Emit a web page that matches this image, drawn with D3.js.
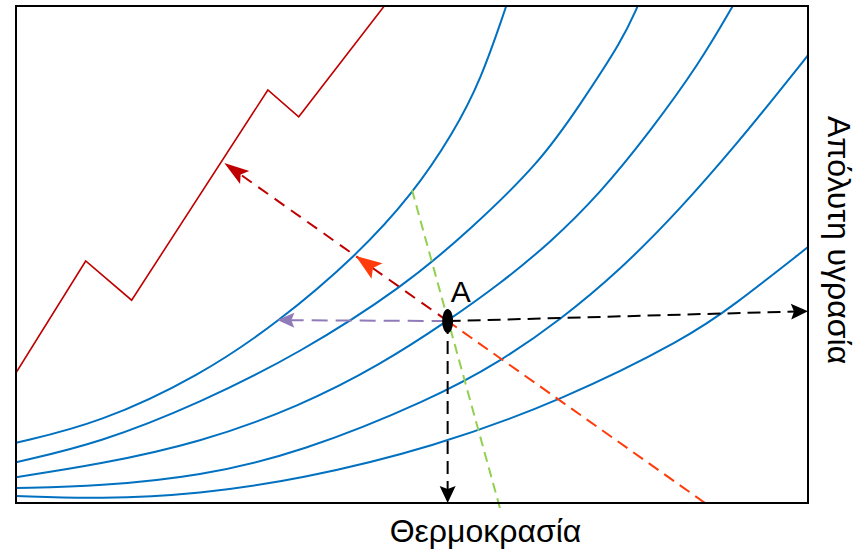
<!DOCTYPE html>
<html><head><meta charset="utf-8">
<script src="https://cdn.jsdelivr.net/npm/d3@7"></script>
<style>body{margin:0;background:#fff}svg{display:block}</style>
</head><body><svg id="c" width="864" height="553"></svg>
<script>
// ---- data (temperature 0-100, absolute humidity 0-100, schematic units) ----
const curve1 = [[0,12.1],[10.6,16.1],[23.2,25.6],[33.0,36.2],[43.1,49.9],[50.1,62.2],[55.2,74.4],[58.7,85.1],[61.9,100]];
const curve2 = [[0,8.2],[10.6,12.1],[23.2,20.1],[35.9,30.2],[48.9,43.5],[57.3,54.9],[66.2,68.6],[71.2,80.1],[76.6,93.2],[78.5,100]];
const curve3 = [[0,5.2],[10.6,7.8],[23.2,12.1],[35.9,19.5],[46.0,27.8],[54.5,36.6],[61.1,44.1],[67.4,52.3],[73.7,62.2],[80.1,74.8],[86.4,88.7],[90.5,100]];
const curve4 = [[0,3.0],[10.6,3.4],[23.2,5.4],[35.9,10.1],[52.5,20.9],[61.1,28.4],[68.7,36.8],[76.3,46.9],[83.8,59.0],[91.4,73.0],[96.5,83.1],[100,90.1]];
const curve5 = [[0,1.4],[10.6,0.8],[23.2,1.8],[35.9,4.8],[52.5,11.1],[69.3,20.9],[84.7,33.2],[90.5,39.6],[100,51.5]];
const saturation = [[0,26.2],[8.8,48.7],[14.6,40.8],[31.8,83.1],[35.7,77.7],[46.5,100]];
const pointA = [54.5,36.6];
const toSaturation = [26.3,68.4];
const orangeStart = [87.0,0];
const orangeTip = [42.9,49.7];
const purpleEnd = [33.0,36.8];
const blackRightEnd = [100,38.6];
const blackDownEnd = [54.5,0];
const greenStart = [50.0,63.0];
const greenEnd = [61.1,-1.0];
const xLabel = "Θερμοκρασία";
const yLabel = "Απόλυτη υγρασία";
const pointLabel = "A";

const curves = [curve1, curve2, curve3, curve4, curve5];

const svg = d3.select("#c");
const x = d3.scaleLinear().domain([0,100]).range([16,808]);
const y = d3.scaleLinear().domain([0,100]).range([503,6]);
const P = d => [x(d[0]), y(d[1])];

svg.append("defs").append("clipPath").attr("id","clip")
  .append("rect").attr("x",16).attr("y",6).attr("width",792).attr("height",497);

const line = d3.line().x(d=>x(d[0])).y(d=>y(d[1])).curve(d3.curveBasis);
const g = svg.append("g").attr("clip-path","url(#clip)");
g.selectAll(".rh").data(curves).join("path")
  .attr("d", line).attr("fill","none").attr("stroke","#0070C0").attr("stroke-width",2);

g.append("path").attr("d", d3.line().x(d=>x(d[0])).y(d=>y(d[1]))(saturation))
  .attr("fill","none").attr("stroke","#C00000").attr("stroke-width",1.6).attr("stroke-linejoin","miter");

function head(tip, from, len, w, notch, color){
  const dx = tip[0]-from[0], dy = tip[1]-from[1];
  const L = Math.hypot(dx,dy), ux = dx/L, uy = dy/L, px = -uy, py = ux;
  const bx = tip[0]-ux*len, by = tip[1]-uy*len;
  const pts = [[tip[0],tip[1]],[bx+px*w/2,by+py*w/2],[tip[0]-ux*(len-notch),tip[1]-uy*(len-notch)],[bx-px*w/2,by-py*w/2]];
  svg.append("path").attr("d","M"+pts.map(p=>p.join(",")).join("L")+"Z").attr("fill",color);
}
function dashed(a, b, color, dash, shorten, width){
  const dx=b[0]-a[0], dy=b[1]-a[1], L=Math.hypot(dx,dy);
  const e=[b[0]-dx/L*shorten, b[1]-dy/L*shorten];
  svg.append("line").attr("x1",a[0]).attr("y1",a[1]).attr("x2",e[0]).attr("y2",e[1])
    .attr("stroke",color).attr("stroke-width",width||2).attr("stroke-dasharray",dash);
}

const A = P(pointA);
dashed(P(greenStart), P(greenEnd), "#92D050", "10,6", 0, 2);
dashed(P(orangeStart), A, "#FF3B0A", "12,7", 0, 2);
dashed(A, P(toSaturation), "#C00000", "12,8", 14, 2);
head(P(toSaturation), A, 25, 16, 5, "#C00000");
head(P(orangeTip), P(orangeStart), 26, 19, 5, "#FF3B0A");
dashed(A, P(purpleEnd), "#8F7BB8", "16,8", 10, 2);
head(P(purpleEnd), A, 17, 15, 3, "#8F7BB8");
dashed(A, P(blackRightEnd), "#000", "13,7", 10, 2);
head(P(blackRightEnd), A, 17, 16, 3, "#000");
dashed(A, P(blackDownEnd), "#000", "13,7", 10, 2);
head(P(blackDownEnd), A, 17, 16, 3, "#000");

svg.append("rect").attr("x",16).attr("y",6).attr("width",792).attr("height",497)
  .attr("fill","none").attr("stroke","#000").attr("stroke-width",2);

svg.append("ellipse").attr("cx",A[0]).attr("cy",A[1]).attr("rx",5.5).attr("ry",12).attr("fill","#000");
const font = "'Liberation Sans', Arial, sans-serif";
svg.append("text").attr("x",A[0]+3).attr("y",A[1]-19).text(pointLabel)
  .attr("font-family",font).attr("font-size",30).attr("fill","#000");

svg.append("text").attr("x",485.5).attr("y",542).attr("text-anchor","middle")
  .attr("font-family",font).attr("font-size",32).attr("fill","#000").text(xLabel);
svg.append("text").attr("transform","translate(828,240) rotate(90)").attr("text-anchor","middle")
  .attr("font-family",font).attr("font-size",32).attr("fill","#000").text(yLabel);
</script></body></html>
